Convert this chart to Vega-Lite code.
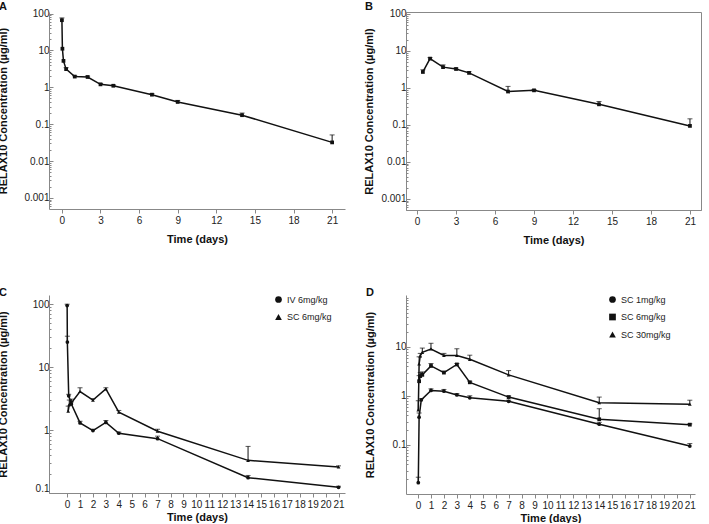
{
  "$schema": "https://vega.github.io/schema/vega-lite/v6.json",
  "background": "white",
  "padding": {"left": -4, "top": 0, "right": 0, "bottom": 0},
  "config": {
    "font": "Liberation Sans",
    "view": {"stroke": null},
    "axis": {"labelFont": "Liberation Sans", "labelFontSize": 10, "labelColor": "#222", "titleFont": "Liberation Sans", "titleFontSize": 11, "titleFontWeight": "bold", "titleColor": "#111", "domainColor": "#888", "tickColor": "#888", "grid": false, "labelOverlap": false},
    "axisX": {"tickSize": 4, "labelPadding": 2, "titlePadding": 8},
    "axisY": {"tickSize": -4, "labelPadding": 4, "titleBaseline": "middle", "titleAngle": -90},
    "legend": {"labelFont": "Liberation Sans", "labelFontSize": 9, "labelColor": "#222", "symbolSize": 45, "rowPadding": 7.5, "labelOffset": 4, "symbolStrokeWidth": 0, "orient": "none", "title": null},
    "title": {"anchor": "start", "frame": "group", "offset": -3, "fontSize": 11, "fontWeight": "bold", "color": "#111", "font": "Liberation Sans"}
  },
  "datasets": {
    "pk": [
      {"panel": "A", "series": "IV", "t": 0.0035, "conc": 66, "upper": 76},
      {"panel": "A", "series": "IV", "t": 0.042, "conc": 11.1, "upper": null},
      {"panel": "A", "series": "IV", "t": 0.125, "conc": 5.2, "upper": null},
      {"panel": "A", "series": "IV", "t": 0.33, "conc": 3.1, "upper": 3.4},
      {"panel": "A", "series": "IV", "t": 1, "conc": 1.95, "upper": 2.05},
      {"panel": "A", "series": "IV", "t": 2, "conc": 1.9, "upper": 2.0},
      {"panel": "A", "series": "IV", "t": 3, "conc": 1.2, "upper": 1.27},
      {"panel": "A", "series": "IV", "t": 4, "conc": 1.1, "upper": 1.15},
      {"panel": "A", "series": "IV", "t": 7, "conc": 0.63, "upper": 0.67},
      {"panel": "A", "series": "IV", "t": 9, "conc": 0.4, "upper": 0.44},
      {"panel": "A", "series": "IV", "t": 14, "conc": 0.175, "upper": 0.2},
      {"panel": "A", "series": "IV", "t": 21, "conc": 0.032, "upper": 0.051},
      {"panel": "B", "series": "SC", "t": 0.45, "conc": 2.7, "upper": 3.1},
      {"panel": "B", "series": "SC", "t": 1, "conc": 6.2, "upper": 6.6},
      {"panel": "B", "series": "SC", "t": 2, "conc": 3.65, "upper": 4.2},
      {"panel": "B", "series": "SC", "t": 3, "conc": 3.25, "upper": 3.45},
      {"panel": "B", "series": "SC", "t": 4, "conc": 2.55, "upper": 2.75},
      {"panel": "B", "series": "SC", "t": 7, "conc": 0.8, "upper": 1.1},
      {"panel": "B", "series": "SC", "t": 9, "conc": 0.86, "upper": 0.9},
      {"panel": "B", "series": "SC", "t": 14, "conc": 0.36, "upper": 0.43},
      {"panel": "B", "series": "SC", "t": 21, "conc": 0.094, "upper": 0.146},
      {"panel": "C", "series": "IV 6mg/kg", "t": 0.0035, "conc": 95, "upper": 100},
      {"panel": "C", "series": "IV 6mg/kg", "t": 0.02, "conc": 25, "upper": 31},
      {"panel": "C", "series": "IV 6mg/kg", "t": 0.125, "conc": 3.5, "upper": 3.7},
      {"panel": "C", "series": "IV 6mg/kg", "t": 0.33, "conc": 2.6, "upper": 2.8},
      {"panel": "C", "series": "IV 6mg/kg", "t": 1, "conc": 1.3, "upper": 1.38},
      {"panel": "C", "series": "IV 6mg/kg", "t": 2, "conc": 0.98, "upper": 1.03},
      {"panel": "C", "series": "IV 6mg/kg", "t": 3, "conc": 1.32, "upper": 1.42},
      {"panel": "C", "series": "IV 6mg/kg", "t": 4, "conc": 0.89, "upper": 0.93},
      {"panel": "C", "series": "IV 6mg/kg", "t": 7, "conc": 0.73, "upper": 0.8},
      {"panel": "C", "series": "IV 6mg/kg", "t": 14, "conc": 0.175, "upper": 0.19},
      {"panel": "C", "series": "IV 6mg/kg", "t": 21, "conc": 0.123, "upper": 0.128},
      {"panel": "C", "series": "SC 6mg/kg", "t": 0.083, "conc": 2.0, "upper": 2.4},
      {"panel": "C", "series": "SC 6mg/kg", "t": 0.17, "conc": 2.55, "upper": 3.0},
      {"panel": "C", "series": "SC 6mg/kg", "t": 0.33, "conc": 2.7, "upper": 3.1},
      {"panel": "C", "series": "SC 6mg/kg", "t": 1, "conc": 4.1, "upper": 4.7},
      {"panel": "C", "series": "SC 6mg/kg", "t": 2, "conc": 3.0, "upper": 3.15},
      {"panel": "C", "series": "SC 6mg/kg", "t": 3, "conc": 4.5, "upper": 4.7},
      {"panel": "C", "series": "SC 6mg/kg", "t": 4, "conc": 1.93, "upper": 2.05},
      {"panel": "C", "series": "SC 6mg/kg", "t": 7, "conc": 0.96, "upper": 1.03},
      {"panel": "C", "series": "SC 6mg/kg", "t": 14, "conc": 0.33, "upper": 0.55},
      {"panel": "C", "series": "SC 6mg/kg", "t": 21, "conc": 0.26, "upper": 0.27},
      {"panel": "D", "series": "SC 1mg/kg", "t": 0.02, "conc": 0.017, "upper": 0.022},
      {"panel": "D", "series": "SC 1mg/kg", "t": 0.083, "conc": 0.37, "upper": 0.45},
      {"panel": "D", "series": "SC 1mg/kg", "t": 0.25, "conc": 0.83, "upper": 0.88},
      {"panel": "D", "series": "SC 1mg/kg", "t": 1, "conc": 1.3, "upper": 1.4},
      {"panel": "D", "series": "SC 1mg/kg", "t": 2, "conc": 1.25, "upper": 1.36},
      {"panel": "D", "series": "SC 1mg/kg", "t": 3, "conc": 1.05, "upper": 1.12},
      {"panel": "D", "series": "SC 1mg/kg", "t": 4, "conc": 0.92, "upper": 1.01},
      {"panel": "D", "series": "SC 1mg/kg", "t": 7, "conc": 0.78, "upper": 0.82},
      {"panel": "D", "series": "SC 1mg/kg", "t": 14, "conc": 0.265, "upper": 0.29},
      {"panel": "D", "series": "SC 1mg/kg", "t": 21, "conc": 0.095, "upper": 0.107},
      {"panel": "D", "series": "SC 6mg/kg", "t": 0.083, "conc": 2.0, "upper": 2.6},
      {"panel": "D", "series": "SC 6mg/kg", "t": 0.17, "conc": 2.55, "upper": 3.0},
      {"panel": "D", "series": "SC 6mg/kg", "t": 0.33, "conc": 2.7, "upper": 3.1},
      {"panel": "D", "series": "SC 6mg/kg", "t": 1, "conc": 4.1, "upper": 4.6},
      {"panel": "D", "series": "SC 6mg/kg", "t": 2, "conc": 3.0, "upper": 3.2},
      {"panel": "D", "series": "SC 6mg/kg", "t": 3, "conc": 4.4, "upper": 4.6},
      {"panel": "D", "series": "SC 6mg/kg", "t": 4, "conc": 1.9, "upper": 2.0},
      {"panel": "D", "series": "SC 6mg/kg", "t": 7, "conc": 0.95, "upper": 1.0},
      {"panel": "D", "series": "SC 6mg/kg", "t": 14, "conc": 0.335, "upper": 0.55},
      {"panel": "D", "series": "SC 6mg/kg", "t": 21, "conc": 0.26, "upper": 0.27},
      {"panel": "D", "series": "SC 30mg/kg", "t": 0.02, "conc": 0.52, "upper": 0.8},
      {"panel": "D", "series": "SC 30mg/kg", "t": 0.083, "conc": 4.5, "upper": 6.3},
      {"panel": "D", "series": "SC 30mg/kg", "t": 0.17, "conc": 6.6, "upper": 7.4},
      {"panel": "D", "series": "SC 30mg/kg", "t": 0.33, "conc": 7.8, "upper": 9.5},
      {"panel": "D", "series": "SC 30mg/kg", "t": 1, "conc": 9.1, "upper": 11.9},
      {"panel": "D", "series": "SC 30mg/kg", "t": 2, "conc": 6.7, "upper": 7.4},
      {"panel": "D", "series": "SC 30mg/kg", "t": 3, "conc": 6.7, "upper": 9.2},
      {"panel": "D", "series": "SC 30mg/kg", "t": 4, "conc": 5.6, "upper": 6.8},
      {"panel": "D", "series": "SC 30mg/kg", "t": 7, "conc": 2.7, "upper": 3.3},
      {"panel": "D", "series": "SC 30mg/kg", "t": 14, "conc": 0.73, "upper": 0.95},
      {"panel": "D", "series": "SC 30mg/kg", "t": 21, "conc": 0.68, "upper": 0.82}
    ]
  },
  "data": {"name": "pk"},
  "columns": 2,
  "bounds": "flush",
  "spacing": {"row": 85, "column": 61},
  "resolve": {"scale": {"shape": "independent"}, "legend": {"shape": "independent"}},
  "concat": [
    {
      "width": 296, "height": 197,
      "title": {"text": "A", "dx": -50},
      "transform": [{"filter": "datum.panel === 'A'"}],
      "encoding": {
        "x": {"field": "t", "type": "quantitative", "scale": {"domain": [-1, 22], "nice": false, "zero": false}, "axis": {"values": [0, 3, 6, 9, 12, 15, 18, 21], "labelOverlap": false, "title": "Time (days)"}}
      },
      "layer": [
        {"transform": [{"filter": "isValid(datum.upper)"}],
         "mark": {"type": "rule", "color": "#111", "strokeWidth": 1},
         "encoding": {
           "y": {"field": "conc", "type": "quantitative", "scale": {"type": "log", "domain": [0.0005, 110], "nice": false}, "axis": {"orient": "left", "values": [0.001, 0.01, 0.1, 1, 10, 100], "format": "~g", "title": "RELAX10 Concentration (µg/ml)", "titleX": -46, "titleY": 98.5}},
           "y2": {"field": "upper"}}},
        {"transform": [{"filter": "isValid(datum.upper)"}],
         "mark": {"type": "tick", "orient": "horizontal", "size": 5, "thickness": 1, "color": "#111"},
         "encoding": {
           "y": {"field": "upper", "type": "quantitative", "axis": {"orient": "left", "values": [0.0006, 0.0007, 0.0008, 0.0009, 0.002, 0.003, 0.004, 0.005, 0.006, 0.007, 0.008, 0.009, 0.02, 0.03, 0.04, 0.05, 0.06, 0.07, 0.08, 0.09, 0.2, 0.3, 0.4, 0.5, 0.6, 0.7, 0.8, 0.9, 2, 3, 4, 5, 6, 7, 8, 9, 20, 30, 40, 50, 60, 70, 80, 90], "labels": false, "domain": false, "title": null, "tickSize": -2}}}},
        {"mark": {"type": "line", "color": "#111", "strokeWidth": 1.5},
         "encoding": {"y": {"field": "conc", "type": "quantitative", "axis": null}, "detail": {"field": "series"}}},
        {"mark": {"type": "point", "shape": "square", "filled": true, "color": "#111", "size": 14, "opacity": 1},
         "encoding": {"y": {"field": "conc", "type": "quantitative", "axis": null}}}
      ],
      "resolve": {"axis": {"y": "independent"}}
    },
    {
      "width": 295, "height": 198,
      "title": {"text": "B", "dx": -41},
      "view": {"stroke": "#888", "strokeWidth": 1},
      "transform": [{"filter": "datum.panel === 'B'"}],
      "encoding": {
        "x": {"field": "t", "type": "quantitative", "scale": {"domain": [-0.85, 21.85], "nice": false, "zero": false}, "axis": {"values": [0, 3, 6, 9, 12, 15, 18, 21], "labelOverlap": false, "title": "Time (days)"}}
      },
      "layer": [
        {"transform": [{"filter": "isValid(datum.upper)"}],
         "mark": {"type": "rule", "color": "#111", "strokeWidth": 1},
         "encoding": {
           "y": {"field": "conc", "type": "quantitative", "scale": {"type": "log", "domain": [0.0005, 113], "nice": false}, "axis": {"orient": "left", "values": [0.001, 0.01, 0.1, 1, 10, 100], "format": "~g", "title": "RELAX10 Concentration (µg/ml)", "titleX": -37, "titleY": 99}},
           "y2": {"field": "upper"}}},
        {"transform": [{"filter": "isValid(datum.upper)"}],
         "mark": {"type": "tick", "orient": "horizontal", "size": 5, "thickness": 1, "color": "#111"},
         "encoding": {
           "y": {"field": "upper", "type": "quantitative", "axis": {"orient": "left", "values": [0.0006, 0.0007, 0.0008, 0.0009, 0.002, 0.003, 0.004, 0.005, 0.006, 0.007, 0.008, 0.009, 0.02, 0.03, 0.04, 0.05, 0.06, 0.07, 0.08, 0.09, 0.2, 0.3, 0.4, 0.5, 0.6, 0.7, 0.8, 0.9, 2, 3, 4, 5, 6, 7, 8, 9, 20, 30, 40, 50, 60, 70, 80, 90], "labels": false, "domain": false, "title": null, "tickSize": -2}}}},
        {"mark": {"type": "line", "color": "#111", "strokeWidth": 1.5},
         "encoding": {"y": {"field": "conc", "type": "quantitative", "axis": null}, "detail": {"field": "series"}}},
        {"mark": {"type": "point", "shape": "square", "filled": true, "color": "#111", "size": 14, "opacity": 1},
         "encoding": {"y": {"field": "conc", "type": "quantitative", "axis": null}}}
      ],
      "resolve": {"axis": {"y": "independent"}}
    },
    {
      "width": 296, "height": 198,
      "title": {"text": "C", "dx": -50},
      "transform": [{"filter": "datum.panel === 'C'"}],
      "encoding": {
        "x": {"field": "t", "type": "quantitative", "scale": {"domain": [-1.4, 21.5], "nice": false, "zero": false}, "axis": {"values": [0, 1, 2, 3, 4, 5, 6, 7, 8, 9, 10, 11, 12, 13, 14, 15, 16, 17, 18, 19, 20, 21], "labelOverlap": false, "labelBound": false, "labelSeparation": 0, "title": "Time (days)", "titlePadding": 2}}
      },
      "layer": [
        {"transform": [{"filter": "isValid(datum.upper)"}],
         "mark": {"type": "rule", "color": "#111", "strokeWidth": 1},
         "encoding": {
           "y": {"field": "conc", "type": "quantitative", "scale": {"type": "log", "domain": [0.1, 140], "nice": false}, "axis": {"orient": "left", "values": [0.1, 1, 10, 100], "format": "~g", "labelFlush": true, "title": "RELAX10 Concentration (µg/ml)", "titleX": -46, "titleY": 99}},
           "y2": {"field": "upper"}}},
        {"transform": [{"filter": "isValid(datum.upper)"}],
         "mark": {"type": "tick", "orient": "horizontal", "size": 5, "thickness": 1, "color": "#111"},
         "encoding": {
           "y": {"field": "upper", "type": "quantitative", "axis": {"orient": "left", "values": [0.2, 0.3, 0.4, 0.5, 0.6, 0.7, 0.8, 0.9, 2, 3, 4, 5, 6, 7, 8, 9, 20, 30, 40, 50, 60, 70, 80, 90], "labels": false, "domain": false, "title": null, "tickSize": -2}}}},
        {"mark": {"type": "line", "color": "#111", "strokeWidth": 1.5},
         "encoding": {"y": {"field": "conc", "type": "quantitative", "axis": null}, "detail": {"field": "series"}}},
        {"mark": {"type": "point", "filled": true, "color": "#111", "size": 14, "opacity": 1},
         "encoding": {"y": {"field": "conc", "type": "quantitative", "axis": null},
           "shape": {"field": "series", "type": "nominal", "scale": {"domain": ["IV 6mg/kg", "SC 6mg/kg"], "range": ["circle", "triangle-up"]}, "legend": {"orient": "none", "legendX": 225, "legendY": 0, "title": null}}}}
      ],
      "resolve": {"axis": {"y": "independent"}}
    },
    {
      "width": 289, "height": 199,
      "title": {"text": "D", "dx": -40},
      "transform": [{"filter": "datum.panel === 'D'"}],
      "encoding": {
        "x": {"field": "t", "type": "quantitative", "scale": {"domain": [-0.93, 21.4], "nice": false, "zero": false}, "axis": {"values": [0, 1, 2, 3, 4, 5, 6, 7, 8, 9, 10, 11, 12, 13, 14, 15, 16, 17, 18, 19, 20, 21], "labelOverlap": false, "labelBound": false, "labelSeparation": 0, "title": "Time (days)", "titlePadding": 2}}
      },
      "layer": [
        {"transform": [{"filter": "isValid(datum.upper)"}],
         "mark": {"type": "rule", "color": "#111", "strokeWidth": 1},
         "encoding": {
           "y": {"field": "conc", "type": "quantitative", "scale": {"type": "log", "domain": [0.01, 115], "nice": false}, "axis": {"orient": "left", "values": [0.1, 1, 10], "format": "~g", "title": "RELAX10 Concentration (µg/ml)", "titleX": -36, "titleY": 99.5}},
           "y2": {"field": "upper"}}},
        {"transform": [{"filter": "isValid(datum.upper)"}],
         "mark": {"type": "tick", "orient": "horizontal", "size": 5, "thickness": 1, "color": "#111"},
         "encoding": {
           "y": {"field": "upper", "type": "quantitative", "axis": {"orient": "left", "values": [0.02, 0.03, 0.04, 0.05, 0.06, 0.07, 0.08, 0.09, 0.2, 0.3, 0.4, 0.5, 0.6, 0.7, 0.8, 0.9, 2, 3, 4, 5, 6, 7, 8, 9, 20, 30, 40, 50, 60, 70, 80, 90, 100], "labels": false, "domain": false, "title": null, "tickSize": -2}}}},
        {"mark": {"type": "line", "color": "#111", "strokeWidth": 1.5},
         "encoding": {"y": {"field": "conc", "type": "quantitative", "axis": null}, "detail": {"field": "series"}}},
        {"mark": {"type": "point", "filled": true, "color": "#111", "size": 14, "opacity": 1},
         "encoding": {"y": {"field": "conc", "type": "quantitative", "axis": null},
           "shape": {"field": "series", "type": "nominal", "scale": {"domain": ["SC 1mg/kg", "SC 6mg/kg", "SC 30mg/kg"], "range": ["circle", "square", "triangle-up"]}, "legend": {"orient": "none", "legendX": 202, "legendY": 0, "title": null}}}}
      ],
      "resolve": {"axis": {"y": "independent"}}
    }
  ]
}
